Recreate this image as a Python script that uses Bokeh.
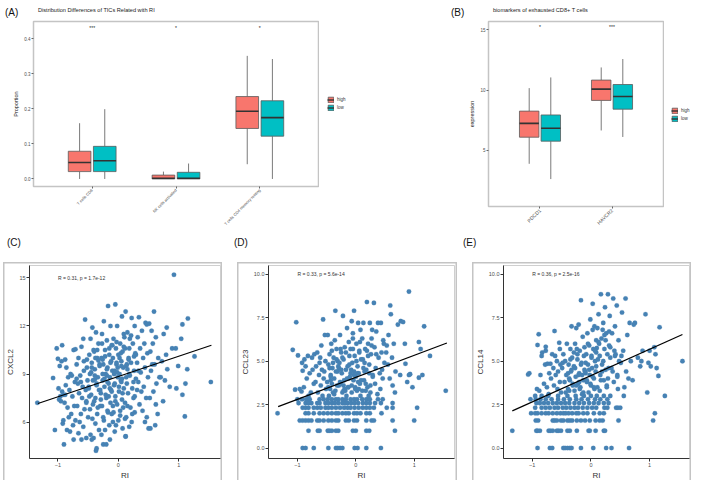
import math
from bokeh.plotting import figure
from bokeh.models import (ColumnDataSource, Range1d, FactorRange, FixedTicker,
                          Legend, LegendItem, Div, Spacer, PrintfTickFormatter)
from bokeh.layouts import row, column
from bokeh.transform import dodge
from bokeh.core.properties import value
from bokeh.embed import file_html
from bokeh.resources import INLINE

# ---------------- data: panel A (TIC proportions) ----------------
tic_cats = ["T cells CD8", "NK cells activated", "T cells CD4 memory resting"]
tic_high_lo = [0.0, 0.0, 0.042]
tic_high_q1 = [0.021, 0.0, 0.144]
tic_high_med = [0.047, 0.002, 0.193]
tic_high_q3 = [0.079, 0.011, 0.235]
tic_high_hi = [0.159, 0.021, 0.351]
tic_low_lo = [0.0, 0.0, 0.0]
tic_low_q1 = [0.021, 0.0, 0.122]
tic_low_med = [0.052, 0.002, 0.175]
tic_low_q3 = [0.093, 0.019, 0.223]
tic_low_hi = [0.199, 0.044, 0.342]
tic_sig = ["***", "*", "*"]
prop_ticks = [0.0, 0.1, 0.2, 0.3, 0.4]

# ---------------- data: panel B (exhaustion markers) ----------------
gene_cats = ["PDCD1", "HAVCR2"]
gene_high_lo = [3.87, 6.64]
gene_high_q1 = [6.08, 9.14]
gene_high_med = [7.23, 10.08]
gene_high_q3 = [8.25, 10.83]
gene_high_hi = [10.16, 11.88]
gene_low_lo = [2.6, 6.1]
gene_low_q1 = [5.75, 8.41]
gene_low_med = [6.83, 9.46]
gene_low_q3 = [7.93, 10.46]
gene_low_hi = [11.05, 12.58]
gene_sig = ["*", "***"]
expr_ticks = [5, 10, 15]
group_names = ["high", "low"]

panel_titles = ["Distribution Differences of TICs Related with RI", "biomarkers of exhausted CD8+ T cells"]
panel_tags = ["(A)", "(B)", "(C)", "(D)", "(E)"]

# ---------------- data: panel C (CXCL2 vs RI) ----------------
cxcl2_ri = [
    -1.34,
    -1.02, -1.00, -1.08, -0.93, -0.96, -0.98, -0.95, -1.05, -0.92, -0.91, -0.90, -0.94, -0.97, -0.93, -0.99, -0.91,
    -0.74, -0.71, -0.88, -0.86, -0.79, -0.83, -0.72, -0.87, -0.81, -0.76, -0.89, -0.73, -0.84, -0.78, -0.82, -0.75, -0.85, -0.74, -0.80, -0.77, -0.88, -0.71,
    -0.55, -0.58, -0.61, -0.66, -0.52, -0.69, -0.57, -0.63, -0.51, -0.67, -0.59, -0.54, -0.65, -0.60, -0.53, -0.68, -0.56, -0.62, -0.50, -0.64, -0.58, -0.66, -0.53, -0.61, -0.69, -0.52,
    -0.43, -0.37, -0.46, -0.33, -0.41, -0.48, -0.35, -0.44, -0.31, -0.39, -0.47, -0.34, -0.42, -0.36, -0.49, -0.32, -0.45, -0.38, -0.40, -0.30, -0.47, -0.35, -0.43, -0.38, -0.32, -0.46, -0.41, -0.36, -0.37, -0.44, -0.33, -0.39,
    -0.17, -0.24, -0.13, -0.27, -0.19, -0.11, -0.22, -0.15, -0.28, -0.12, -0.25, -0.18, -0.10, -0.21, -0.14, -0.26, -0.16, -0.23, -0.12, -0.29, -0.20, -0.13, -0.27, -0.18, -0.11, -0.24, -0.15, -0.22, -0.28, -0.14, -0.25, -0.20, -0.26, -0.19, -0.16,
    -0.05, 0.06, -0.02, 0.09, -0.08, 0.03, -0.04, 0.07, 0.00, -0.09, 0.05, -0.03, 0.08, -0.06, 0.02, -0.01, 0.04, -0.07, 0.09, 0.01, -0.05, 0.06, -0.02, 0.08, -0.08, 0.03, 0.00, -0.04, 0.07, -0.06, 0.12, 0.04, -0.03, 0.05, -0.09,
    0.12, 0.22, 0.27, 0.15, 0.19, 0.24, 0.11, 0.28, 0.17, 0.21, 0.13, 0.26, 0.18, 0.29, 0.14, 0.23, 0.16, 0.25, 0.11, 0.20, 0.27, 0.13, 0.22, 0.18, 0.12, 0.26, 0.15,
    0.34, 0.45, 0.47, 0.39, 0.32, 0.43, 0.36, 0.48, 0.41, 0.31, 0.44, 0.37, 0.49, 0.33, 0.42, 0.38, 0.46, 0.35, 0.40, 0.47, 0.44, 0.53,
    0.59, 0.51, 0.55, 0.62, 0.57, 0.53, 0.66, 0.60, 0.54, 0.68, 0.63, 0.58, 0.52, 0.62, 0.65, 0.61, 0.50, 0.56,
    0.80, 0.75, 0.89, 0.72, 0.81, 0.70, 0.77, 0.85, 0.74, 0.79,
    0.92, 1.15, 1.06, 1.04, 0.95, 1.14, 1.11, 0.96, 1.06, 1.10, 0.99,
    1.26, 1.53,
    -0.45, -0.40, -0.36, -0.31, -0.27, -0.23, -0.19, -0.15, -0.11, -0.07, -0.03, 0.01, 0.05, 0.09, 0.13, 0.17, 0.21, 0.25, 0.29, 0.33,
    -0.48, -0.42, -0.38, -0.34, -0.29, -0.25, -0.21, -0.17, -0.13, -0.09, -0.05, -0.01, 0.03, 0.07, 0.11, 0.15, 0.19, 0.23, 0.27, 0.31,
    -0.62, -0.57, -0.53, -0.49, -0.44, -0.39, -0.35, -0.30, -0.26, -0.22, -0.18, -0.14, -0.10, -0.06, -0.02, 0.02, 0.06, 0.10, 0.14, 0.18]
cxcl2 = [
    7.2,
    10.6, 9.95, 8.75, 7.9, 7.6, 7.4, 7.3, 5.5, 5.9, 6.1, 4.6, 9.8, 9.5, 10.8, 8.1, 7.7,
    10.5, 10.55, 9.9, 9.4, 9.0, 8.8, 8.5, 8.3, 8.0, 7.6, 7.2, 7.0, 6.9, 6.5, 6.3, 5.8, 5.5, 4.9, 5.4, 8.9, 7.7, 6.1,
    12.4, 11.2, 10.7, 10.0, 9.9, 9.6, 9.2, 8.9, 8.6, 8.4, 8.2, 8.0, 7.8, 7.5, 7.2, 7.0, 6.8, 6.5, 6.3, 6.0, 5.7, 5.3, 5.0, 4.9, 8.7, 9.4,
    11.9, 11.6, 11.2, 10.9, 10.5, 10.2, 10.0, 9.7, 9.5, 9.3, 9.0, 8.8, 8.6, 8.4, 8.2, 8.0, 7.7, 7.5, 7.3, 7.0, 6.8, 6.5, 6.2, 5.9, 5.5, 5.2, 5.0, 4.35, 4.2, 4.9, 9.85, 8.65,
    13.25, 12.3, 12.0, 11.5, 11.1, 10.8, 10.5, 10.2, 10.0, 9.8, 9.6, 9.4, 9.2, 9.0, 8.8, 8.6, 8.4, 8.2, 8.0, 7.8, 7.5, 7.2, 7.0, 6.7, 6.5, 6.1, 5.8, 5.5, 5.2, 4.9, 4.6, 4.6, 9.9, 8.9, 7.6,
    13.35, 12.6, 12.0, 11.5, 11.2, 10.9, 10.6, 10.4, 10.2, 10.0, 9.8, 9.6, 9.4, 9.2, 9.0, 8.8, 8.6, 8.3, 8.1, 7.9, 7.6, 7.4, 7.1, 6.9, 6.6, 6.4, 6.1, 5.8, 5.6, 5.4, 5.1, 10.3, 9.7, 8.5, 7.0,
    12.9, 12.5, 12.0, 11.6, 11.2, 10.9, 10.6, 10.3, 10.0, 9.7, 9.5, 9.2, 9.0, 8.7, 8.4, 8.1, 7.8, 7.5, 7.2, 6.9, 6.6, 6.3, 6.0, 5.7, 5.1, 10.1, 9.3,
    12.55, 12.2, 12.1, 11.7, 11.3, 10.9, 10.6, 10.3, 10.0, 9.7, 9.4, 9.1, 8.8, 8.5, 8.2, 7.9, 7.5, 7.1, 6.7, 6.3, 6.0, 5.6,
    12.9, 12.15, 11.7, 11.3, 10.9, 10.4, 10.0, 9.6, 9.2, 8.8, 8.4, 7.9, 7.5, 7.1, 6.5, 5.8, 5.6, 9.6,
    11.9, 11.5, 10.6, 9.8, 9.3, 8.8, 8.6, 8.2, 7.3, 10.2,
    15.2, 12.47, 12.1, 11.2, 10.6, 9.3, 8.4, 8.1, 7.7, 6.35, 9.5,
    10.1, 8.5,
    9.1, 10.4, 8.3, 9.6, 10.9, 8.7, 9.3, 10.6, 7.9, 9.0, 11.0, 8.2, 9.5, 10.7, 8.8, 9.9, 11.4, 8.5, 10.2, 9.2,
    7.6, 7.1, 10.0, 6.9, 7.4, 6.3, 7.7, 6.6, 9.7, 6.0, 7.3, 9.4, 6.7, 7.8, 6.2, 7.0, 8.9, 6.5, 7.6, 8.0,
    8.5, 9.8, 7.3, 8.1, 9.4, 8.9, 10.5, 8.0, 9.0, 10.1, 8.5, 8.1, 10.8, 8.4, 9.1, 10.0, 8.7, 11.3, 9.6, 10.6]
cxcl2_fit_x = [-1.33, 1.54]
cxcl2_fit_y = [7.16, 10.8]
cxcl2_cor = "R = 0.31, p = 1.7e-12"
cxcl2_ticks = [6, 9, 12, 15]

# ---------------- data: panel D (CCL23 vs RI) ----------------
ccl23_rows = [
    (0.0, [-0.91, -0.86, -0.72, -0.47, -0.34, -0.31, -0.27, -0.23, -0.02, 0.03, 0.18, 0.43]),
    (1.0, [-0.81, -0.65, -0.62, -0.48, -0.45, -0.41, -0.34, -0.30, -0.05, 0.0, 0.18, 0.23, 0.67]),
    (1.585, [-0.96, -0.91, -0.86, -0.81, -0.76, -0.66, -0.62, -0.55, -0.47, -0.41, -0.34, -0.30, -0.17, -0.12, -0.03, 0.02, 0.18, 0.27, 0.31, 0.63, 1.0]),
    (2.0, [-1.34, -0.86, -0.81, -0.72, -0.62, -0.55, -0.48, -0.41, -0.34, -0.30, -0.23, -0.17, -0.12, -0.03, 0.02, 0.08, 0.18, 0.24, 0.44]),
    (2.322, [-0.91, -0.86, -0.81, -0.72, -0.66, -0.60, -0.52, -0.47, -0.41, -0.34, -0.27, -0.20, -0.14, -0.09, -0.02, 0.05, 0.12, 0.18, 0.24, 0.31, 0.53, 0.63, 1.05]),
    (2.585, [-0.98, -0.86, -0.81, -0.76, -0.66, -0.62, -0.52, -0.47, -0.41, -0.36, -0.30, -0.23, -0.18, -0.14, -0.08, -0.02, 0.04, 0.12, 0.18, 0.24, 0.33, 0.43, 0.63]),
    (2.807, [-1.0, -0.92, -0.85, -0.79, -0.62, -0.55, -0.48, -0.41, -0.34, -0.30, -0.23, -0.17, -0.09, -0.03, 0.02, 0.11, 0.18, 0.24, 0.38, 0.46]),
]
ccl23_cloud_ri = [
    -1.08, -0.99, -1.02, -1.04, -0.96, -0.93, -0.91, -0.92,
    -0.88, -0.82, -0.75, -0.86, -0.79, -0.84, -0.72, -0.89, -0.77, -0.81, -0.71, -0.74,
    -0.56, -0.53, -0.66, -0.61, -0.52, -0.68, -0.58, -0.63, -0.55, -0.69, -0.60, -0.51, -0.65, -0.57, -0.62, -0.59, -0.54,
    -0.35, -0.48, -0.42, -0.33, -0.45, -0.38, -0.31, -0.47, -0.40, -0.34, -0.43, -0.37, -0.49, -0.32, -0.44, -0.39, -0.46, -0.36, -0.41, -0.30, -0.43,
    -0.22, -0.15, -0.27, -0.12, -0.19, -0.25, -0.11, -0.21, -0.28, -0.14, -0.17, -0.24, -0.10, -0.20, -0.26, -0.13, -0.18, -0.23, -0.16, -0.29, -0.12, -0.21, -0.26,
    -0.03, -0.07, 0.04, 0.08, -0.05, 0.01, -0.09, 0.06, -0.02, 0.09, -0.06, 0.03, -0.08, 0.05, 0.00, -0.04, 0.07, -0.01, 0.02, -0.07, 0.08, -0.03, 0.04, 0.06, -0.05,
    0.19, 0.31, 0.13, 0.24, 0.28, 0.11, 0.21, 0.16, 0.26, 0.12, 0.23, 0.18, 0.29, 0.14, 0.25, 0.17, 0.22, 0.27, 0.15, 0.20,
    0.38, 0.43, 0.35, 0.47, 0.32, 0.44, 0.39, 0.49, 0.34, 0.41, 0.46, 0.33, 0.42, 0.37, 0.48, 0.45,
    0.59, 0.60, 0.56, 0.65, 0.52, 0.62, 0.55, 0.68, 0.58, 0.63, 0.67, 0.53,
    0.77, 0.81, 0.72, 0.84, 0.85, 0.76, 0.88,
    0.91, 0.91, 0.93, 0.97, 1.08, 1.11, 1.14, 1.08, 1.17, 1.27, 1.54,
    -0.47, -0.43, -0.39, -0.35, -0.31, -0.27, -0.23, -0.19, -0.15, -0.11, -0.07, -0.03, 0.01, 0.05, 0.09, 0.13, 0.17, 0.21, 0.25, 0.29,
    -0.45, -0.41, -0.37, -0.33, -0.29, -0.25, -0.21, -0.17, -0.13, -0.09, -0.05, -0.01, 0.03, 0.07, 0.11, 0.15, 0.19, 0.23, 0.27, 0.35]
ccl23_cloud = [
    5.65, 5.33, 7.24, 3.36, 3.4, 3.25, 4.45, 4.9,
    5.1, 5.3, 5.2, 4.7, 4.3, 4.0, 3.7, 3.5, 3.2, 3.0, 5.4, 4.5,
    7.4, 6.5, 5.5, 5.2, 5.0, 4.7, 4.5, 4.2, 4.0, 3.8, 3.6, 3.4, 3.2, 3.0, 4.9, 5.9, 4.4,
    7.9, 6.5, 6.0, 5.7, 5.4, 5.2, 5.0, 4.8, 4.6, 4.4, 4.2, 4.0, 3.8, 3.6, 3.4, 3.2, 3.0, 6.2, 5.6, 4.7, 3.9,
    7.6, 6.9, 6.5, 6.1, 5.8, 5.5, 5.3, 5.1, 4.9, 4.7, 4.5, 4.3, 4.1, 3.9, 3.7, 3.5, 3.3, 3.2, 3.0, 4.6, 4.0, 3.6, 5.7,
    7.9, 7.3, 7.2, 6.8, 6.3, 6.0, 5.7, 5.5, 5.3, 5.1, 4.9, 4.7, 4.5, 4.3, 4.1, 3.9, 3.7, 3.5, 3.3, 3.2, 3.0, 4.4, 3.8, 5.6, 6.6,
    8.4, 8.35, 7.2, 7.2, 6.8, 6.3, 6.0, 5.7, 5.4, 5.1, 4.8, 4.5, 4.2, 3.9, 3.6, 3.3, 3.0, 5.9, 4.4, 3.5,
    7.2, 7.2, 6.7, 6.2, 5.8, 5.5, 5.2, 4.9, 4.6, 4.3, 4.0, 3.7, 3.4, 3.1, 6.0, 4.5,
    8.2, 7.7, 6.5, 6.0, 5.5, 5.2, 4.8, 4.4, 4.0, 3.6, 3.2, 5.9,
    7.3, 7.25, 7.1, 6.0, 4.85, 4.2, 3.8,
    9.0, 4.2, 4.25, 3.5, 6.1, 5.7, 4.2, 4.05, 7.0, 5.3, 3.3,
    3.5, 4.1, 4.9, 3.3, 4.4, 3.8, 5.2, 3.4, 4.0, 4.8, 3.6, 4.2, 5.0, 3.4, 3.9, 4.6, 3.7, 5.3, 3.2, 4.1,
    4.6, 3.7, 3.1, 5.1, 3.6, 4.5, 3.3, 5.5, 3.5, 4.3, 5.7, 3.4, 4.3, 6.1, 3.3, 4.9, 5.6, 4.3, 6.3, 5.4]
ccl23_fit_x = [-1.33, 1.56]
ccl23_fit_y = [2.38, 6.04]
ccl23_cor = "R = 0.33, p = 5.6e-14"

# ---------------- data: panel E (CCL14 vs RI) ----------------
ccl14_rows = [
    (0.0, [-0.91, -0.70, -0.66, -0.47, -0.44, -0.40, -0.36, -0.33, -0.17, 0.04, 0.26, 0.35, 0.65]),
    (1.0, [-1.34, -0.93, -0.91, -0.87, -0.72, -0.69, -0.65, -0.58, -0.55, -0.51, -0.40, -0.36, -0.24, -0.04, -0.02, 0.08, 0.22, 0.24]),
    (1.585, [-0.94, -0.90, -0.65, -0.62, -0.58, -0.51, -0.47, -0.40, -0.36, -0.32, -0.24, -0.17, -0.10, -0.02, 0.08, 0.15, 0.20, 0.47, 1.06]),
    (2.0, [-1.02, -0.95, -0.91, -0.84, -0.77, -0.72, -0.65, -0.58, -0.52, -0.47, -0.43, -0.38, -0.32, -0.25, -0.21, -0.13, -0.06, 0.05, 0.15, 0.22, 1.09]),
    (2.322, [-0.95, -0.84, -0.77, -0.70, -0.62, -0.56, -0.48, -0.42, -0.35, -0.28, -0.22, -0.14, -0.06, 0.02, 0.09, 0.23, 0.28, 0.43, 0.46, 0.50]),
    (2.585, [-0.93, -0.87, -0.80, -0.73, -0.65, -0.58, -0.51, -0.44, -0.37, -0.28, -0.20, -0.12, -0.03, 0.05, 0.13, 0.22, 0.30]),
    (2.807, [-1.03, -0.94, -0.86, -0.77, -0.67, -0.56, -0.46, -0.36, -0.25, -0.16, -0.05, 0.07, 0.16, 0.28]),
    (3.0, [-0.95, -0.84, -0.73, -0.56, -0.40, -0.26, -0.12, 0.00, 0.10, 0.22, 0.33, 0.56, 1.26]),
]
ccl14_cloud_ri = [
    -1.07, -1.05, -0.92, -0.89, -0.91,
    -0.77, -0.77, -0.83, -0.78, -0.74, -0.71, -0.86, -0.80, -0.75, -0.88, -0.72, -0.84,
    -0.62, -0.66, -0.58, -0.69, -0.52, -0.64, -0.56, -0.60, -0.68, -0.53, -0.63, -0.57, -0.51, -0.54, -0.61, -0.53,
    -0.41, -0.35, -0.47, -0.32, -0.44, -0.38, -0.49, -0.34, -0.42, -0.37, -0.45, -0.31, -0.39, -0.43, -0.33, -0.48, -0.36,
    -0.17, -0.21, -0.25, -0.14, -0.27, -0.19, -0.12, -0.23, -0.16, -0.29, -0.11, -0.20, -0.26, -0.13, -0.22, -0.18, -0.28, -0.15, -0.24, -0.10, -0.20,
    0.03, -0.01, 0.06, -0.06, 0.09, -0.03, 0.04, -0.08, 0.01, 0.07, -0.05, 0.02, 0.08, -0.02, 0.05, -0.07, 0.00, 0.06, -0.04, 0.09, -0.09, 0.03,
    0.17, 0.29, 0.24, 0.13, 0.21, 0.11, 0.26, 0.18, 0.14, 0.23, 0.28, 0.12, 0.19, 0.25, 0.16, 0.22, 0.27, 0.15, 0.10, 0.20, 0.30,
    0.38, 0.44, 0.32, 0.41, 0.36, 0.47, 0.33, 0.42, 0.48, 0.35, 0.45, 0.39, 0.46, 0.31, 0.40,
    0.59, 0.53, 0.66, 0.62, 0.55, 0.68, 0.51, 0.60, 0.64, 0.57, 0.52,
    0.75, 0.73, 0.80, 0.86, 0.84, 0.71, 0.88,
    0.93, 0.96, 0.98, 1.00, 1.08, 1.10, 1.12, 1.15, 1.17, 1.02, 1.56,
    -0.39, -0.35, -0.31, -0.27, -0.23, -0.19, -0.15, -0.11, -0.07, -0.03, 0.01, 0.05, 0.09, 0.13, 0.17, 0.21, 0.25, 0.29, 0.33, 0.37,
    -0.37, -0.33, -0.29, -0.25, -0.21, -0.17, -0.13, -0.09, -0.05, -0.01, 0.03, 0.07, 0.11, 0.15, 0.19, 0.23, 0.27, 0.31, 0.41, 0.45]
ccl14_cloud = [
    4.23, 4.3, 3.4, 6.55, 5.93,
    5.82, 5.6, 5.5, 4.8, 4.85, 4.3, 4.2, 3.7, 3.5, 3.3, 3.1, 5.3,
    6.73, 5.4, 5.0, 4.85, 4.8, 4.6, 4.4, 4.2, 4.0, 3.8, 3.6, 3.4, 3.2, 6.06, 5.3, 5.7,
    6.0, 5.7, 5.4, 5.2, 5.0, 4.8, 4.6, 4.4, 4.2, 4.0, 3.8, 3.6, 3.4, 3.2, 7.0, 4.9, 3.9,
    8.5, 7.1, 6.9, 6.4, 6.0, 5.6, 5.3, 5.1, 4.9, 4.7, 4.5, 4.3, 4.1, 3.9, 3.7, 3.5, 3.3, 3.1, 5.7, 4.4, 3.8,
    8.3, 7.4, 7.0, 6.6, 6.2, 5.9, 5.7, 5.4, 5.2, 5.0, 4.8, 4.6, 4.4, 4.2, 4.0, 3.8, 3.6, 3.4, 3.2, 5.5, 4.3, 6.8,
    8.85, 8.85, 8.1, 7.7, 7.2, 6.9, 6.6, 6.3, 6.0, 5.7, 5.4, 5.1, 4.8, 4.5, 4.2, 3.9, 3.6, 3.3, 5.75, 6.8, 4.6,
    8.6, 8.2, 7.6, 7.0, 6.6, 6.2, 5.8, 5.4, 5.0, 4.6, 4.2, 3.8, 3.4, 6.7, 5.6,
    8.6, 7.8, 7.2, 6.5, 5.6, 5.0, 4.9, 4.4, 4.0, 3.5, 5.3,
    7.2, 7.1, 5.2, 5.0, 4.7, 3.9, 5.6,
    7.7, 3.2, 4.9, 5.6, 5.8, 5.4, 4.6, 4.15, 6.95, 4.7, 5.0,
    4.3, 5.1, 3.7, 4.6, 5.4, 3.4, 4.2, 5.8, 3.9, 4.5, 5.3, 3.5, 4.7, 6.1, 3.9, 5.0, 6.2, 4.0, 5.2, 4.4,
    3.3, 4.5, 5.5, 3.6, 4.2, 4.8, 3.2, 4.9, 6.0, 3.7, 4.1, 5.6, 3.5, 5.3, 4.4, 6.5, 3.5, 5.9, 5.3, 4.1]
ccl14_fit_x = [-1.34, 1.56]
ccl14_fit_y = [2.14, 6.53]
ccl14_cor = "R = 0.36, p = 2.5e-16"
chemo_ticks = [0.0, 2.5, 5.0, 7.5, 10.0]
ri_ticks = [-1, 0, 1]

assert len(cxcl2_ri) == len(cxcl2)
assert len(ccl23_cloud_ri) == len(ccl23_cloud)
assert len(ccl14_cloud_ri) == len(ccl14_cloud)


def merge_rows(rows, cloud_x, cloud_y):
    xs, ys = [], []
    for level, vals in rows:
        xs += vals
        ys += [level] * len(vals)
    return xs + cloud_x, ys + cloud_y


ccl23_ri, ccl23 = merge_rows(ccl23_rows, ccl23_cloud_ri, ccl23_cloud)
ccl14_ri, ccl14 = merge_rows(ccl14_rows, ccl14_cloud_ri, ccl14_cloud)

# ---------------- styling ----------------
FONT = "Liberation Sans"
HIGH = "#F8766D"
LOW = "#00BFC4"
PT = "#4682B4"
BOX_LINE = "#5a5a5a"
MED_LINE = "#333333"


def no_align(p):
    # keep each plot's frame where its own borders put it (no row-wide frame alignment)
    try:
        p.frame_align = False
    except Exception:
        pass


def box_panel(cats, high, low, sig, sig_y, ylabel, yticks, yfmt, yr, pad, w, h, ml, mr, mt, mb, xfs):
    p = figure(width=w, height=h,
               x_range=FactorRange(factors=cats, range_padding=pad, range_padding_units="absolute"),
               y_range=Range1d(*yr), output_backend="svg", toolbar_location=None,
               min_border_left=ml, min_border_right=mr, min_border_top=mt, min_border_bottom=mb)
    no_align(p)
    p.xgrid.visible = False
    p.ygrid.visible = False
    p.outline_line_color = "#c4c4c4"
    p.outline_line_width = 1.5
    p.background_fill_color = "white"
    for (lo, q1, med, q3, hi), off, col in zip((high, low), (-0.15, 0.15), (HIGH, LOW)):
        src = ColumnDataSource(dict(cat=cats, lo=lo, q1=q1, med=med, q3=q3, hi=hi))
        xs = dodge("cat", off, range=p.x_range)
        p.segment(x0=xs, y0="hi", x1=xs, y1="q3", source=src, line_color="#7a7a7a", line_width=1)
        p.segment(x0=xs, y0="lo", x1=xs, y1="q1", source=src, line_color="#7a7a7a", line_width=1)
        p.vbar(x=xs, width=0.27, top="q3", bottom="q1", source=src,
               fill_color=col, line_color=BOX_LINE, line_width=0.8)
        p.segment(x0=dodge("cat", off - 0.135, range=p.x_range), y0="med",
                  x1=dodge("cat", off + 0.135, range=p.x_range), y1="med",
                  source=src, line_color=MED_LINE, line_width=1.6)
    ssrc = ColumnDataSource(dict(cat=cats, sig=sig))
    p.text(x="cat", y=sig_y, text="sig", source=ssrc, text_font=value(FONT), text_font_size="5px",
           text_align="center", text_baseline="middle", text_color="#222222")
    xa, ya = p.xaxis[0], p.yaxis[0]
    for ax in (xa, ya):
        ax.axis_line_color = None
        ax.major_tick_line_color = "#666666"
        ax.major_tick_in = 0
        ax.major_tick_out = 2
        ax.minor_tick_line_color = None
        ax.major_label_text_color = "#4d4d4d"
        ax.major_label_text_font = FONT
        ax.major_label_standoff = 1
    xa.major_label_orientation = math.pi / 4
    xa.major_label_text_font_size = xfs
    ya.ticker = FixedTicker(ticks=yticks)
    ya.formatter = PrintfTickFormatter(format=yfmt)
    ya.major_label_text_font_size = "4.5px"
    ya.axis_label = ylabel
    ya.axis_label_text_font = FONT
    ya.axis_label_text_font_size = "5.5px"
    ya.axis_label_text_font_style = "normal"
    ya.axis_label_text_color = "#222222"
    ya.axis_label_standoff = 2
    return p


def legend_panel(w, h, left, top):
    # a small, axis-free figure that only carries the "high"/"low" key
    q = figure(width=w, height=h, x_range=Range1d(0, 1), y_range=Range1d(0, 1),
               output_backend="svg", toolbar_location=None,
               min_border_left=left, min_border_top=top, min_border_right=0, min_border_bottom=0)
    no_align(q)
    q.axis.visible = False
    q.grid.visible = False
    q.outline_line_color = None
    items = []
    for name, col in zip(group_names, (HIGH, LOW)):
        # off-range stand-in marks: only their legend swatches are seen
        rb = q.vbar(x=[-5], top=[-5], bottom=[-6], width=0.1, fill_color=col,
                    line_color=BOX_LINE, line_width=0.8)
        rm = q.segment(x0=[-5], y0=[-5], x1=[-4], y1=[-5], line_color=MED_LINE, line_width=1.4)
        items.append(LegendItem(label=name, renderers=[rb, rm]))
    lg = Legend(items=items, location="top_left", glyph_width=7, glyph_height=7, label_height=7,
                label_width=10, label_standoff=3, spacing=1, padding=0, margin=0,
                label_text_font=FONT, label_text_font_size="4.5px", label_text_color="#333333",
                border_line_color=None, background_fill_alpha=0)
    q.add_layout(lg)
    return q


# ---------------- panel A ----------------
pA = box_panel(
    tic_cats,
    (tic_high_lo, tic_high_q1, tic_high_med, tic_high_q3, tic_high_hi),
    (tic_low_lo, tic_low_q1, tic_low_med, tic_low_q3, tic_low_hi),
    tic_sig, 0.43, "Proportion", prop_ticks, "%.1f", (-0.0215, 0.449), 0.2,
    319, 210, 33, 1, 1, 43, "4px")
legA = legend_panel(36, 210, 8, 76)

# ---------------- panel B ----------------
pB = box_panel(
    gene_cats,
    (gene_high_lo, gene_high_q1, gene_high_med, gene_high_q3, gene_high_hi),
    (gene_low_lo, gene_low_q1, gene_low_med, gene_low_q3, gene_low_hi),
    gene_sig, 15.24, "expression", expr_ticks, "%d", (0.32, 15.7), 0.215,
    309, 210, 133, 1, 1, 21, "5px")
legB = legend_panel(29, 210, 7, 87)


# ---------------- scatter panels ----------------
def scatter_panel(ri, expr, fit_x, fit_y, cor, cor_xy, ylabel, xr, yr, yticks, yfmt, w, h, ml, mr, mt, mb):
    p = figure(width=w, height=h, x_range=Range1d(*xr), y_range=Range1d(*yr),
               output_backend="svg", toolbar_location=None,
               min_border_left=ml, min_border_right=mr, min_border_top=mt, min_border_bottom=mb)
    no_align(p)
    p.styles = {"box-shadow": "inset 0 0 0 1.5px #c4c4c4"}
    p.border_fill_color = None
    p.background_fill_color = "white"
    p.xgrid.visible = False
    p.ygrid.visible = False
    p.outline_line_color = "#cfcfcf"
    p.outline_line_width = 1
    src = ColumnDataSource(dict(ri=ri, expr=expr))
    p.scatter(x="ri", y="expr", source=src, size=4.6, fill_color=PT, line_color=PT, line_width=0.2)
    p.line(x=fit_x, y=fit_y, line_color="black", line_width=1.2)
    p.text(x=[cor_xy[0]], y=[cor_xy[1]], text=[cor], text_font=value(FONT), text_font_size="5px",
           text_align="left", text_baseline="middle", text_color="#333333")
    xa, ya = p.xaxis[0], p.yaxis[0]
    for ax in (xa, ya):
        ax.axis_line_color = "#333333"
        ax.axis_line_width = 1
        ax.major_tick_line_color = "#333333"
        ax.major_tick_in = 0
        ax.major_tick_out = 3
        ax.minor_tick_line_color = None
        ax.major_label_text_color = "#4d4d4d"
        ax.major_label_text_font = FONT
        ax.major_label_text_font_size = "5.5px"
        ax.major_label_standoff = 1
        ax.axis_label_text_font = FONT
        ax.axis_label_text_font_size = "8px"
        ax.axis_label_text_font_style = "normal"
        ax.axis_label_text_color = "#333333"
        ax.axis_label_standoff = 1
    xa.ticker = FixedTicker(ticks=ri_ticks)
    xa.axis_label = "RI"
    ya.ticker = FixedTicker(ticks=yticks)
    ya.formatter = PrintfTickFormatter(format=yfmt)
    ya.axis_label = ylabel
    return p


pC = scatter_panel(cxcl2_ri, cxcl2, cxcl2_fit_x, cxcl2_fit_y, cxcl2_cor, (-1.0, 15.0), "CXCL2",
                   (-1.47, 1.69), (3.72, 15.78), cxcl2_ticks, "%d", 219, 220, 21, 2, 3, 20)
pD = scatter_panel(ccl23_ri, ccl23, ccl23_fit_x, ccl23_fit_y, ccl23_cor, (-1.0, 10.0), "CCL23",
                   (-1.495, 1.69), (-0.6, 10.5), chemo_ticks, "%.1f", 220, 220, 26, 3, 3, 20)
pE = scatter_panel(ccl14_ri, ccl14, ccl14_fit_x, ccl14_fit_y, ccl14_cor, (-1.0, 10.0), "CCL14",
                   (-1.49, 1.68), (-0.6, 10.5), chemo_ticks, "%.1f", 219, 220, 27, 2, 3, 20)

# ---------------- panel tags and titles (HTML text rows) ----------------
txt = "position:absolute;white-space:nowrap;font-family:'Liberation Sans',Arial,sans-serif;"
top_html = ('<div style="position:relative;width:693px;height:10px;">'
            f'<span style="{txt}left:0px;top:0px;font-size:10px;line-height:11px;color:#111;">{panel_tags[0]}</span>'
            f'<span style="{txt}left:33px;top:0px;font-size:5.6px;line-height:7px;color:#222;">{panel_titles[0]}</span>'
            f'<span style="{txt}left:446px;top:0px;font-size:10px;line-height:11px;color:#111;">{panel_tags[1]}</span>'
            f'<span style="{txt}left:488px;top:0px;font-size:5.6px;line-height:7px;color:#222;">{panel_titles[1]}</span>'
            '</div>')
top_div = Div(text=top_html, width=693, height=10)

bottom_html = ('<div style="position:relative;width:693px;height:22px;">'
               f'<span style="{txt}left:2px;top:1px;font-size:10px;line-height:14px;color:#111;">{panel_tags[2]}</span>'
               f'<span style="{txt}left:229px;top:1px;font-size:10px;line-height:14px;color:#111;">{panel_tags[3]}</span>'
               f'<span style="{txt}left:458px;top:1px;font-size:10px;line-height:14px;color:#111;">{panel_tags[4]}</span>'
               '</div>')
label_div = Div(text=bottom_html, width=693, height=22)

top = row(pA, legA, pB, legB)
bottom = row(Spacer(width=3, height=220), pC, Spacer(width=15, height=220), pD,
             Spacer(width=15, height=220), pE)
p = column(top_div, top, label_div, bottom)

open("out.html", "w").write(file_html(p, INLINE))
